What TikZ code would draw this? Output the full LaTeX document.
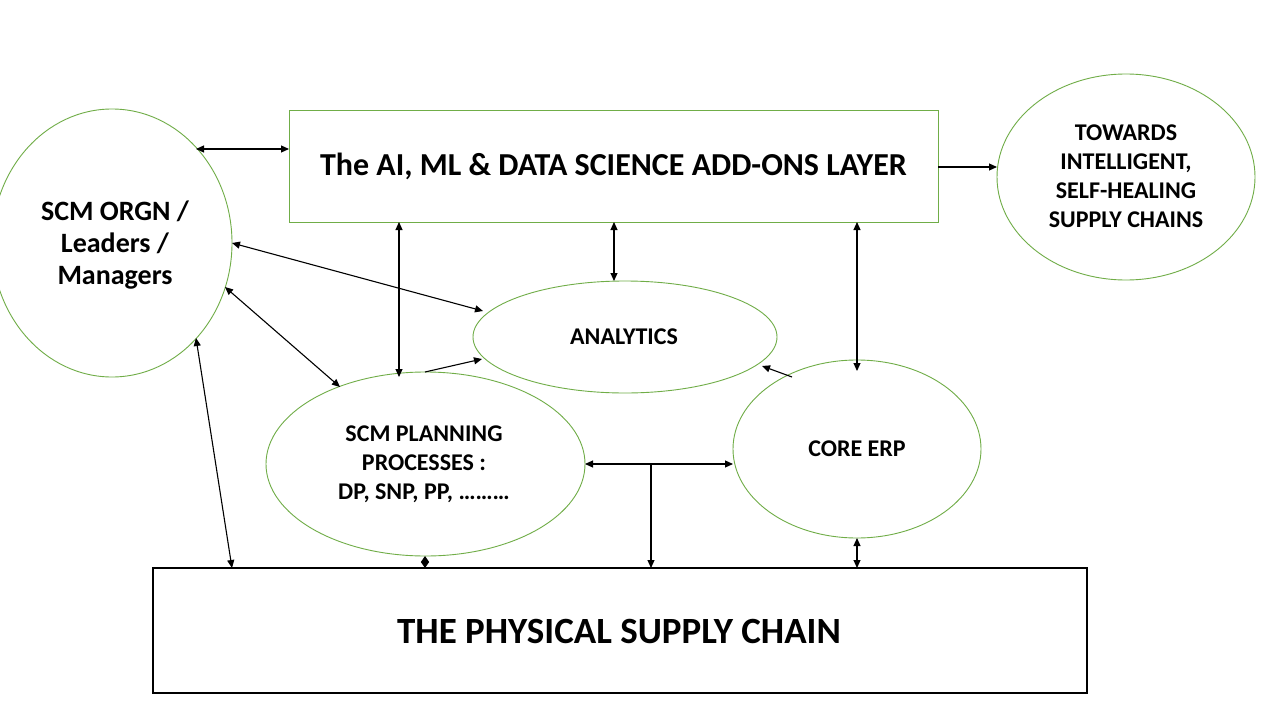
\documentclass[tikz,border=0pt]{standalone}
\usepackage{fontspec}
\setmainfont{Carlito}
\usetikzlibrary{arrows.meta}
\definecolor{ogreen}{RGB}{112,173,71}
\tikzset{
  shp/.style={draw=ogreen, line width=0.9pt},
  blk/.style={draw=black, line width=1.1pt},
  lbl/.style={align=center, font=\bfseries},
  con/.style={draw=black, line width=1.1pt, {Triangle[length=8pt,width=7pt]}-{Triangle[length=8pt,width=7pt]}},
  one/.style={draw=black, line width=1.1pt, -{Triangle[length=8pt,width=7pt]}},
}
\begin{document}
\begin{tikzpicture}[x=1pt,y=-1pt]
\useasboundingbox[fill=white] (0,0) rectangle (1280,720);
% shapes
\draw[shp] (289,110) rectangle (938,222);
\node[lbl, font=\bfseries\fontsize{32}{38}\selectfont] (ai) at (613.5,166) {The AI, ML \& DATA SCIENCE ADD-ONS LAYER};
\draw[blk] (153,568) rectangle (1087,693);
\node[lbl, font=\bfseries\fontsize{37}{44}\selectfont] (phys) at (619,631) {THE PHYSICAL SUPPLY CHAIN};
\draw[shp] (1126,177) ellipse [x radius=129, y radius=103];
\node[lbl, font=\bfseries\fontsize{24}{29}\selectfont] (tow) at (1126,176) {TOWARDS\\INTELLIGENT,\\SELF-HEALING\\SUPPLY CHAINS};
\draw[shp] (112,243) ellipse [x radius=120, y radius=134];
\node[lbl, font=\bfseries\fontsize{28}{32}\selectfont] (org) at (115,245) {SCM ORGN /\\Leaders /\\Managers};
\draw[shp] (625,337) ellipse [x radius=152, y radius=56];
\node[lbl, font=\bfseries\fontsize{24}{29}\selectfont] (ana) at (624,337) {ANALYTICS};
\draw[shp] (425.5,464) ellipse [x radius=159.5, y radius=92];
\node[lbl, font=\bfseries\fontsize{24}{29}\selectfont] (plan) at (424,464) {SCM PLANNING\\PROCESSES :\\DP, SNP, PP, ………};
\draw[shp] (857,449) ellipse [x radius=124, y radius=89];
\node[lbl, font=\bfseries\fontsize{24}{29}\selectfont] (erp) at (857,449) {CORE ERP};
% connector end coordinates
\coordinate (a1) at (196,149); \coordinate (a2) at (289,149);
\coordinate (b1) at (938,167); \coordinate (b2) at (997,167);
\coordinate (c1) at (399,222); \coordinate (c2) at (399,377);
\coordinate (d1) at (614,222); \coordinate (d2) at (614,281);
\coordinate (e1) at (857,222); \coordinate (e2) at (857,371);
\coordinate (f1) at (232,243); \coordinate (f2) at (483,311);
\coordinate (g1) at (225,287); \coordinate (g2) at (340,387);
\coordinate (h1) at (196,338); \coordinate (h2) at (232,568);
\coordinate (i1) at (425,372); \coordinate (i2) at (482,359);
\coordinate (j1) at (792,377); \coordinate (j2) at (762,366);
\coordinate (k1) at (585,464); \coordinate (k2) at (733,464);
\coordinate (k3) at (651,464); \coordinate (k4) at (651,568);
\coordinate (l1) at (425,556); \coordinate (l2) at (425,568);
\coordinate (m1) at (857,538); \coordinate (m2) at (857,568);
% connectors
\draw[con] (a1) -- (a2);
\draw[one] (b1) -- (b2);
\draw[con] (c1) -- (c2);
\draw[con] (d1) -- (d2);
\draw[con] (e1) -- (e2);
\draw[con] (f1) -- (f2);
\draw[con] (g1) -- (g2);
\draw[con] (h1) -- (h2);
\draw[one] (i1) -- (i2);
\draw[one] (j1) -- (j2);
\draw[con] (k1) -- (k2);
\draw[one] (k3) -- (k4);
\draw[con, {Triangle[length=6pt,width=8pt]}-{Triangle[length=6pt,width=8pt]}] (l1) -- (l2);
\draw[con] (m1) -- (m2);
\end{tikzpicture}
\end{document}
